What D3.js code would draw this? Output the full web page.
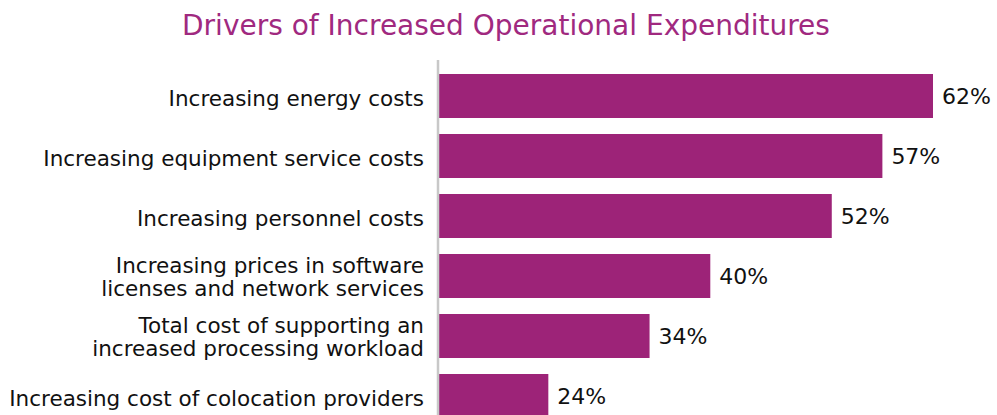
<!DOCTYPE html>
<html>
<head>
<meta charset="utf-8">
<script src="https://cdn.jsdelivr.net/npm/d3@7"></script>
<style>
  html, body { margin: 0; padding: 0; background: #ffffff; }
  svg { display: block; }
</style>
</head>
<body>
<div id="chart"></div>
<script>
// Survey responses: drivers of increased operational expenditures (share of respondents)
const categories = [
  "Increasing energy costs",
  "Increasing equipment service costs",
  "Increasing personnel costs",
  "Increasing prices in software\nlicenses and network services",
  "Total cost of supporting an\nincreased processing workload",
  "Increasing cost of colocation providers"
];
const values = [62, 57, 52, 40, 34, 24];
const valueFormat = v => v + "%";
const title = "Drivers of Increased Operational Expenditures";

const width = 997, height = 415;
const barColor = "#9d2378";
const titleColor = "#a0297f";
const font = "'DejaVu Sans', 'Noto Sans', sans-serif";

const svg = d3.select("#chart").append("svg")
  .attr("width", width)
  .attr("height", height);

const data = categories.map((c, i) => ({ category: c, value: values[i] }));

// Value axis (bars start from a cut-off baseline rather than zero)
const x = d3.scaleLinear().domain([13.2, 62]).range([439, 933]);

const y = d3.scaleBand()
  .domain(categories)
  .range([66, 426])
  .paddingInner(16 / 60)
  .paddingOuter(8 / 60);

// Title
svg.append("text")
  .attr("x", 506)
  .attr("y", 35)
  .attr("text-anchor", "middle")
  .style("font-family", font)
  .style("font-size", "28px")
  .style("fill", titleColor)
  .text(title);

// Bars
svg.append("g").selectAll("rect")
  .data(data)
  .join("rect")
  .attr("x", x.range()[0])
  .attr("y", d => y(d.category))
  .attr("width", d => x(d.value) - x.range()[0])
  .attr("height", y.bandwidth())
  .attr("fill", barColor);

// Category axis line
svg.append("line")
  .attr("x1", 438).attr("x2", 438)
  .attr("y1", 60).attr("y2", height)
  .attr("stroke", "#c8c8c8")
  .attr("stroke-width", 2.5);

// Category labels (may wrap onto two lines)
const lineHeight = 23;
const labels = svg.append("g")
  .style("font-family", font)
  .style("font-size", "21.5px")
  .style("fill", "#111111")
  .attr("text-anchor", "end");

labels.selectAll("text")
  .data(data)
  .join("text")
  .attr("x", 424)
  .attr("y", d => y(d.category) + y.bandwidth() / 2)
  .each(function (d) {
    const lines = d.category.split("\n");
    const t = d3.select(this);
    const offset = -(lines.length - 1) * lineHeight / 2;
    lines.forEach((ln, i) => {
      t.append("tspan")
        .attr("x", 424)
        .attr("dy", i === 0 ? (offset + (lines.length > 1 ? 8 : 10)) : lineHeight)
        .text(ln);
    });
  });

// Value labels
svg.append("g")
  .style("font-family", font)
  .style("font-size", "22px")
  .style("fill", "#111111")
  .selectAll("text")
  .data(data)
  .join("text")
  .attr("x", d => x(d.value) + 9)
  .attr("y", d => y(d.category) + y.bandwidth() / 2)
  .attr("dy", "0.36em")
  .text(d => valueFormat(d.value));
</script>
</body>
</html>
